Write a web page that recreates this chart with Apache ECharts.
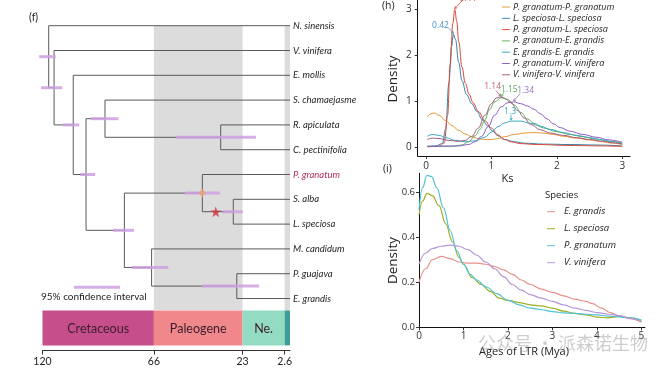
<!DOCTYPE html>
<html><head><meta charset="utf-8">
<script src="https://cdn.jsdelivr.net/npm/echarts@6/dist/echarts.min.js"></script>
<style>html,body{margin:0;padding:0;background:#fff}#c{width:672px;height:370px}</style>
</head><body><div id="c"></div>
<script>
// ===== (f) dated phylogeny =====
const tipNames = ['N. sinensis','V. vinifera','E. mollis','S. chamaejasme','R. apiculata','C. pectinifolia','P. granatum','S. alba','L. speciosa','M. candidum','P. guajava','E. grandis'];
const nodeIds = ['E','D','H','G','J','I','F','C','B','A','R'];
const nodeChildren = [[4,5],[3,'E'],[7,8],[6,'H'],[10,11],[9,'J'],['G','I'],['D','F'],[2,'C'],[1,'B'],[0,'A']];
const nodeAges = [33.6, 89.7, 27.5, 42.5, 25.8, 67.1, 80.3, 98.9, 105.1, 114.4, 117.0];
const ciLow  = [16.5, 83.2, 22.9, 33.9, 15.0, 59.0, 75.6, 94.5, 102.2, 110.5, 113.6];
const ciHigh = [55.3, 96.6, 32.5, 50.9, 42.7, 76.8, 85.8, 101.8, 110.2, 120.7, 121.6];
const ciLegendRange = [104.7, 82.4];
const starAge = 36.0;
const periods = ['Cretaceous','Paleogene','Ne.',''];
const periodStart = [120, 66, 23, 2.6];
const periodEnd = [66, 23, 2.6, 0];
const greyStart = [66, 2.6];
const greyEnd = [23, 0];
const timeTicks = [120, 66, 23, 2.6];

// ===== (h) Ks density =====
const ksNames = ['P. granatum-P. granatum','L. speciosa-L. speciosa','P. granatum-L. speciosa','P. granatum-E. grandis','E. grandis-E. grandis','P. granatum-V. vinifera','V. vinifera-V. vinifera'];
const ksPgPg = [[0.02,0.66],[0.06,0.72],[0.12,0.75],[0.2,0.7],[0.3,0.58],[0.4,0.47],[0.5,0.37],[0.6,0.29],[0.7,0.23],[0.8,0.19],[0.9,0.17],[1.0,0.17],[1.1,0.19],[1.2,0.23],[1.35,0.28],[1.5,0.31],[1.65,0.32],[1.8,0.31],[1.95,0.28],[2.1,0.24],[2.3,0.2],[2.5,0.16],[2.7,0.12],[2.85,0.09],[3.0,0.06]];
const ksLsLs = [[0.02,0.02],[0.15,0.03],[0.25,0.08],[0.3,0.4],[0.35,1.4],[0.39,2.2],[0.42,2.46],[0.45,2.35],[0.5,1.85],[0.55,1.45],[0.62,1.15],[0.7,0.95],[0.78,0.78],[0.86,0.6],[0.94,0.47],[1.02,0.35],[1.1,0.25],[1.2,0.17],[1.35,0.12],[1.5,0.09],[1.8,0.07],[2.2,0.06],[2.6,0.05],[3.0,0.03]];
const ksPgLs = [[0.02,0.01],[0.2,0.02],[0.28,0.1],[0.33,0.7],[0.37,1.8],[0.41,2.7],[0.44,3.0],[0.47,2.75],[0.5,2.3],[0.55,1.75],[0.6,1.4],[0.66,1.15],[0.72,0.97],[0.8,0.78],[0.9,0.58],[1.0,0.42],[1.1,0.27],[1.2,0.17],[1.3,0.12],[1.45,0.08],[1.7,0.06],[2.2,0.04],[2.7,0.03],[3.0,0.02]];
const ksPgEg = [[0.02,0.02],[0.4,0.02],[0.55,0.05],[0.65,0.12],[0.75,0.25],[0.83,0.4],[0.9,0.6],[0.97,0.82],[1.05,0.99],[1.15,1.08],[1.25,1.04],[1.35,0.92],[1.45,0.76],[1.55,0.62],[1.65,0.52],[1.8,0.42],[2.0,0.34],[2.2,0.28],[2.4,0.23],[2.6,0.18],[2.8,0.13],[3.0,0.09]];
const ksEgEg = [[0.02,0.24],[0.1,0.28],[0.2,0.26],[0.3,0.21],[0.45,0.15],[0.6,0.12],[0.75,0.14],[0.9,0.22],[1.0,0.33],[1.1,0.45],[1.2,0.53],[1.3,0.57],[1.45,0.57],[1.6,0.52],[1.75,0.46],[1.9,0.39],[2.1,0.32],[2.3,0.26],[2.5,0.21],[2.7,0.16],[2.85,0.12],[3.0,0.08]];
const ksPgVv = [[0.02,0.02],[0.5,0.03],[0.65,0.06],[0.75,0.12],[0.85,0.24],[0.95,0.45],[1.05,0.7],[1.15,0.88],[1.25,0.97],[1.34,0.99],[1.45,0.95],[1.55,0.9],[1.65,0.83],[1.75,0.73],[1.85,0.62],[1.95,0.51],[2.05,0.43],[2.2,0.35],[2.4,0.28],[2.6,0.22],[2.8,0.16],[3.0,0.11]];
const ksVvVv = [[0.02,0.17],[0.1,0.2],[0.2,0.19],[0.35,0.15],[0.5,0.13],[0.6,0.15],[0.7,0.24],[0.8,0.42],[0.9,0.7],[1.0,0.95],[1.07,1.07],[1.13,1.1],[1.2,1.07],[1.3,0.97],[1.4,0.8],[1.5,0.64],[1.6,0.5],[1.75,0.38],[1.9,0.31],[2.1,0.26],[2.3,0.21],[2.5,0.17],[2.7,0.13],[2.85,0.1],[3.0,0.07]];
const ksTicks = [0, 1, 2, 3];
const densTicksH = [0, 1, 2, 3];
const peakKs = [0.44, 0.42, 1.14, 1.15, 1.34, 1.3];
const peakDensity = [3.0, 2.46, 1.1, 1.08, 0.99, 0.57];
const peakLabels = ['0.44', '0.42', '1.14', '1.15', '1.34', '1.3'];

// ===== (i) LTR insertion ages =====
const ltrNames = ['E. grandis','L. speciosa','P. granatum','V. vinifera'];
const ltrEg = [[0,0.2],[0.15,0.26],[0.3,0.3],[0.5,0.315],[0.7,0.305],[0.9,0.29],[1.1,0.285],[1.3,0.285],[1.5,0.28],[1.7,0.27],[1.9,0.255],[2.1,0.235],[2.3,0.21],[2.5,0.19],[2.75,0.17],[3.0,0.155],[3.25,0.14],[3.5,0.125],[3.75,0.115],[3.9,0.105],[4.1,0.085],[4.3,0.065],[4.5,0.05],[4.75,0.038],[5.0,0.022]];
const ltrLs = [[0,0.5],[0.08,0.56],[0.18,0.595],[0.3,0.585],[0.45,0.54],[0.6,0.46],[0.75,0.38],[0.9,0.31],[1.0,0.28],[1.2,0.22],[1.4,0.19],[1.6,0.16],[1.8,0.13],[2.0,0.12],[2.25,0.11],[2.5,0.1],[2.75,0.095],[3.0,0.085],[3.25,0.072],[3.5,0.062],[3.75,0.055],[4.0,0.045],[4.25,0.042],[4.5,0.048],[4.75,0.042],[5.0,0.03]];
const ltrPg = [[0,0.52],[0.08,0.62],[0.18,0.675],[0.28,0.67],[0.4,0.62],[0.55,0.53],[0.7,0.43],[0.85,0.34],[1.0,0.28],[1.15,0.235],[1.3,0.21],[1.5,0.18],[1.75,0.15],[2.0,0.12],[2.25,0.1],[2.5,0.085],[2.75,0.078],[3.0,0.07],[3.25,0.064],[3.5,0.062],[3.75,0.058],[4.0,0.055],[4.25,0.05],[4.5,0.046],[4.75,0.042],[5.0,0.032]];
const ltrVv = [[0,0.28],[0.15,0.33],[0.3,0.35],[0.5,0.36],[0.7,0.365],[0.9,0.36],[1.1,0.345],[1.3,0.32],[1.5,0.29],[1.7,0.26],[1.9,0.225],[2.1,0.19],[2.3,0.165],[2.5,0.145],[2.75,0.13],[3.0,0.115],[3.25,0.1],[3.5,0.085],[3.75,0.075],[4.0,0.065],[4.25,0.058],[4.5,0.052],[4.75,0.04],[5.0,0.025]];
const ageTicks = [0, 1, 2, 3, 4, 5];
const densTicksI = [0, 0.2, 0.4, 0.6];

// ----- derived tree geometry -----
const yOf = {}, ageOf = {};
tipNames.forEach((n, i) => { yOf[i] = i; ageOf[i] = 0; });
nodeIds.forEach((id, k) => { const [a, b] = nodeChildren[k]; yOf[id] = (yOf[a] + yOf[b]) / 2; ageOf[id] = nodeAges[k]; });
const segs = [];
nodeIds.forEach((id, k) => {
  const [a, b] = nodeChildren[k];
  segs.push([ageOf[id], yOf[a], ageOf[id], yOf[b]]);
  segs.push([ageOf[id], yOf[a], ageOf[a], yOf[a]]);
  segs.push([ageOf[id], yOf[b], ageOf[b], yOf[b]]);
});
const ciData = nodeIds.map((id, k) => [ciLow[k], ciHigh[k], yOf[id]]);
const CI_LEGEND_Y = 10.55, BAND_TOP = 0, BAND_BOTTOM = 11.46, TS_TOP = 11.48, TS_BOTTOM = 12.89;
ciData.push([ciLegendRange[0], ciLegendRange[1], CI_LEGEND_Y]);

const periodColors = ['#c64f8b', '#f0878a', '#93dcc3', '#3f9d9a'];
const ksColors = ['#e8962e', '#3584ad', '#d9493a', '#55b255', '#3aa9bb', '#8d5cc8', '#a45a80'];
const ltrColors = ['#e8908a', '#9fae22', '#4fc3d3', '#b597d8'];
const annoStyle = [
  {c:'#d9493a', lx:13, ly:-11, ax:5, ay:-6},
  {c:'#4a92c2', lx:-13, ly:-9, ax:-3, ay:-4},
  {c:'#c0607a', lx:-8, ly:-10, ax:-3, ay:-4},
  {c:'#55b255', lx:8, ly:-8, ax:2, ay:-4},
  {c:'#9a70c8', lx:12, ly:-11, ax:4, ay:-5},
  {c:'#3aa9bb', lx:-1, ly:-10, ax:0, ay:-4}
];
const F = 'Lato', G = '"Open Sans"';
const LINE_ICON = 'path://M0,0 L0,0 M0,44 L100,44 L100,56 L0,56 Z M0,100 L0,100';

const chart = echarts.init(document.getElementById('c'));

function lineSeries(name, data, color, xi, width) {
  return {type:'line', name, data, xAxisIndex:xi, yAxisIndex:xi, showSymbol:false, symbol:'none',
    smooth:0.4, smoothMonotone:'x', lineStyle:{color, width}, itemStyle:{color}, silent:true, z:3};
}

const option = {
  animation:false,
  backgroundColor:'#ffffff',
  grid:[
    {left:42.5, top:25.7, width:247.5, height:324.9},
    {left:417.7, top:0.42, width:212.4, height:155.6},
    {left:419, top:173.3, width:226, height:154}
  ],
  xAxis:[
    {gridIndex:0, type:'value', min:0, max:120, inverse:true,
      axisLine:{show:true, onZero:false, lineStyle:{color:'#333', width:1}},
      axisTick:{show:true, length:4, customValues:timeTicks, lineStyle:{color:'#333'}},
      axisLabel:{customValues:timeTicks, fontSize:10.5, color:'#222', margin:6, fontFamily:F},
      splitLine:{show:false}},
    {gridIndex:1, type:'value', min:-0.127, max:3.12,
      axisLine:{show:true, onZero:false, lineStyle:{color:'#111', width:1}},
      axisTick:{show:true, length:3, customValues:ksTicks, lineStyle:{color:'#333'}},
      axisLabel:{customValues:ksTicks, fontSize:10, color:'#333', margin:5.5, fontFamily:G},
      splitLine:{show:false}},
    {gridIndex:2, type:'value', min:0, max:5.08,
      axisLine:{show:true, onZero:false, lineStyle:{color:'#111', width:1}},
      axisTick:{show:true, length:3, customValues:ageTicks, lineStyle:{color:'#333'}},
      axisLabel:{customValues:ageTicks, fontSize:10, color:'#333', margin:4, fontFamily:G},
      splitLine:{show:false}}
  ],
  yAxis:[
    {gridIndex:0, type:'value', min:0, max:13.1, inverse:true, show:false},
    {gridIndex:1, type:'value', min:-0.19, max:3.2,
      axisLine:{show:true, onZero:false, lineStyle:{color:'#111', width:1}},
      axisTick:{show:true, length:3, customValues:densTicksH, lineStyle:{color:'#333'}},
      axisLabel:{customValues:densTicksH, fontSize:10, color:'#333', margin:6, fontFamily:G},
      splitLine:{show:false}},
    {gridIndex:2, type:'value', min:0, max:0.684,
      axisLine:{show:true, onZero:false, lineStyle:{color:'#111', width:1}},
      axisTick:{show:true, length:3, customValues:densTicksI, lineStyle:{color:'#333'}},
      axisLabel:{customValues:densTicksI, fontSize:9.5, color:'#333', margin:4, fontFamily:G, formatter:v => v.toFixed(1)},
      splitLine:{show:false}}
  ],
  legend:[
    {data:ksNames.map(n => ({name:n, icon:LINE_ICON})), orient:'vertical', left:502, top:2.5, itemWidth:10, itemHeight:8, itemGap:2.3, padding:0,
      textStyle:{fontSize:9, fontStyle:'italic', fontFamily:G, color:'#222', padding:[0,0,0,-3]}, selectedMode:false},
    {data:ltrNames.map(n => ({name:n, icon:LINE_ICON})), orient:'vertical', left:547, top:206.7, itemWidth:12, itemHeight:8, itemGap:7, padding:0,
      textStyle:{fontSize:9.5, fontStyle:'italic', fontFamily:G, color:'#222', padding:[0,0,0,2]}, selectedMode:false}
  ],
  series:[
    {type:'custom', xAxisIndex:0, yAxisIndex:0, silent:true, z:1,
      data:greyStart.map((s, i) => [s, greyEnd[i]]),
      renderItem:(p, api) => {
        const a = api.coord([api.value(0), BAND_TOP]), b = api.coord([api.value(1), BAND_BOTTOM]);
        return {type:'rect', shape:{x:a[0], y:a[1], width:b[0]-a[0], height:b[1]-a[1]}, style:{fill:'#dcdcdc'}};
      }},
    {type:'custom', xAxisIndex:0, yAxisIndex:0, silent:true, z:2,
      data:periodStart.map((s, i) => [s, periodEnd[i]]),
      renderItem:(p, api) => {
        const i = p.dataIndex;
        const a = api.coord([api.value(0), TS_TOP]), b = api.coord([api.value(1), TS_BOTTOM]);
        return {type:'group', children:[
          {type:'rect', shape:{x:a[0], y:a[1], width:b[0]-a[0], height:b[1]-a[1]}, style:{fill:periodColors[i]}},
          {type:'text', x:(a[0]+b[0])/2, y:(a[1]+b[1])/2+1, style:{text:periods[i], fill:'#3a1d2c', fontSize:12.5, fontFamily:F, align:'center', verticalAlign:'middle'}}
        ]};
      }},
    {type:'custom', xAxisIndex:0, yAxisIndex:0, silent:true, z:4,
      data:ciData,
      renderItem:(p, api) => {
        const a = api.coord([api.value(0), api.value(2)]), b = api.coord([api.value(1), api.value(2)]);
        return {type:'line', shape:{x1:a[0], y1:a[1], x2:b[0], y2:b[1]}, style:{stroke:'rgba(206,160,226,0.85)', lineWidth:3}};
      }},
    {type:'custom', xAxisIndex:0, yAxisIndex:0, silent:true, z:3,
      data:segs,
      renderItem:(p, api) => {
        const a = api.coord([api.value(0), api.value(1)]), b = api.coord([api.value(2), api.value(3)]);
        return {type:'line', shape:{x1:a[0], y1:a[1], x2:b[0], y2:b[1]}, style:{stroke:'#5a5a5a', lineWidth:1}};
      }},
    {type:'custom', xAxisIndex:0, yAxisIndex:0, silent:true, z:5,
      data:tipNames.map((n, i) => [0, i]),
      renderItem:(p, api) => {
        const a = api.coord([api.value(0), api.value(1)]);
        const name = tipNames[p.dataIndex];
        return {type:'text', x:a[0]+3, y:a[1], style:{text:name, fill:name === 'P. granatum' ? '#b3325e' : '#262626',
          fontSize:9.5, fontStyle:'italic', fontFamily:F, align:'left', verticalAlign:'middle'}};
      }},
    {type:'scatter', xAxisIndex:0, yAxisIndex:0, silent:true, z:6, data:[[ageOf['G'], yOf['G']]],
      symbol:'diamond', symbolSize:[7,9], itemStyle:{color:'#e8a477'}},
    {type:'scatter', xAxisIndex:0, yAxisIndex:0, silent:true, z:6, data:[[starAge, yOf['H']]],
      symbol:'path://M50,0 L61,35 L98,35 L68,57 L79,91 L50,70 L21,91 L32,57 L2,35 L39,35 Z', symbolSize:11, itemStyle:{color:'#c8323a'}},
    lineSeries(ksNames[0], ksPgPg, ksColors[0], 1, 1),
    lineSeries(ksNames[1], ksLsLs, ksColors[1], 1, 1),
    lineSeries(ksNames[2], ksPgLs, ksColors[2], 1, 1),
    lineSeries(ksNames[3], ksPgEg, ksColors[3], 1, 1),
    lineSeries(ksNames[4], ksEgEg, ksColors[4], 1, 1),
    lineSeries(ksNames[5], ksPgVv, ksColors[5], 1, 1),
    lineSeries(ksNames[6], ksVvVv, ksColors[6], 1, 1),
    {type:'custom', xAxisIndex:1, yAxisIndex:1, silent:true, z:7,
      data:peakKs.map((k, i) => [k, peakDensity[i]]),
      renderItem:(p, api) => {
        const i = p.dataIndex, s = annoStyle[i];
        const a = api.coord([api.value(0), api.value(1)]);
        const tip = [a[0], a[1]-1], tail = [a[0]+s.ax*1.6, a[1]+s.ay*1.6];
        const ang = Math.atan2(tip[1]-tail[1], tip[0]-tail[0]);
        const h = 2.5;
        return {type:'group', children:[
          {type:'line', shape:{x1:tail[0], y1:tail[1], x2:tip[0], y2:tip[1]}, style:{stroke:s.c, lineWidth:0.8}},
          {type:'polyline', shape:{points:[[tip[0]-h*Math.cos(ang-0.5), tip[1]-h*Math.sin(ang-0.5)], tip, [tip[0]-h*Math.cos(ang+0.5), tip[1]-h*Math.sin(ang+0.5)]]}, style:{stroke:s.c, lineWidth:0.8, fill:null}},
          {type:'text', x:a[0]+s.lx, y:a[1]+s.ly, style:{text:peakLabels[i], fill:s.c, fontSize:8.5, fontFamily:G, align:'center', verticalAlign:'middle'}}
        ]};
      }},
    lineSeries(ltrNames[0], ltrEg, ltrColors[0], 2, 1.2),
    lineSeries(ltrNames[1], ltrLs, ltrColors[1], 2, 1.2),
    lineSeries(ltrNames[2], ltrPg, ltrColors[2], 2, 1.2),
    lineSeries(ltrNames[3], ltrVv, ltrColors[3], 2, 1.2)
  ],
  graphic:[
    {type:'text', left:29, top:12, style:{text:'(f)', fontSize:10.5, fontFamily:F, fill:'#222'}},
    {type:'text', left:41, top:292, style:{text:'95% confidence interval', fontSize:10, fontFamily:F, fill:'#222'}},
    {type:'text', left:382, top:1, style:{text:'(h)', fontSize:10.5, fontFamily:G, fill:'#222'}},
    {type:'text', left:383, top:164, style:{text:'(i)', fontSize:10.5, fontFamily:G, fill:'#222'}},
    {type:'text', x:393, y:79, rotation:Math.PI/2, style:{text:'Density', fontSize:13.5, fontFamily:G, fill:'#222', align:'center', verticalAlign:'middle'}},
    {type:'text', x:393.5, y:260.5, rotation:Math.PI/2, style:{text:'Density', fontSize:13.5, fontFamily:G, fill:'#222', align:'center', verticalAlign:'middle'}},
    {type:'text', x:507.5, y:178.5, style:{text:'Ks', fontSize:11, fontFamily:G, fill:'#222', align:'center', verticalAlign:'middle'}},
    {type:'text', x:524, y:352, style:{text:'Ages of LTR (Mya)', fontSize:11, fontFamily:G, fill:'#222', align:'center', verticalAlign:'middle'}},
    {type:'text', x:545, y:195, style:{text:'Species', fontSize:9.5, fontFamily:G, fill:'#222', align:'left', verticalAlign:'middle'}},
    {type:'text', x:478, y:343, z:100, style:{text:'公众号 · 派森诺生物', fontSize:18, fontFamily:'"Noto Sans CJK SC"', fill:'rgba(130,130,130,0.4)', align:'left', verticalAlign:'middle'}}
  ]
};
chart.setOption(option);
</script></body></html>
